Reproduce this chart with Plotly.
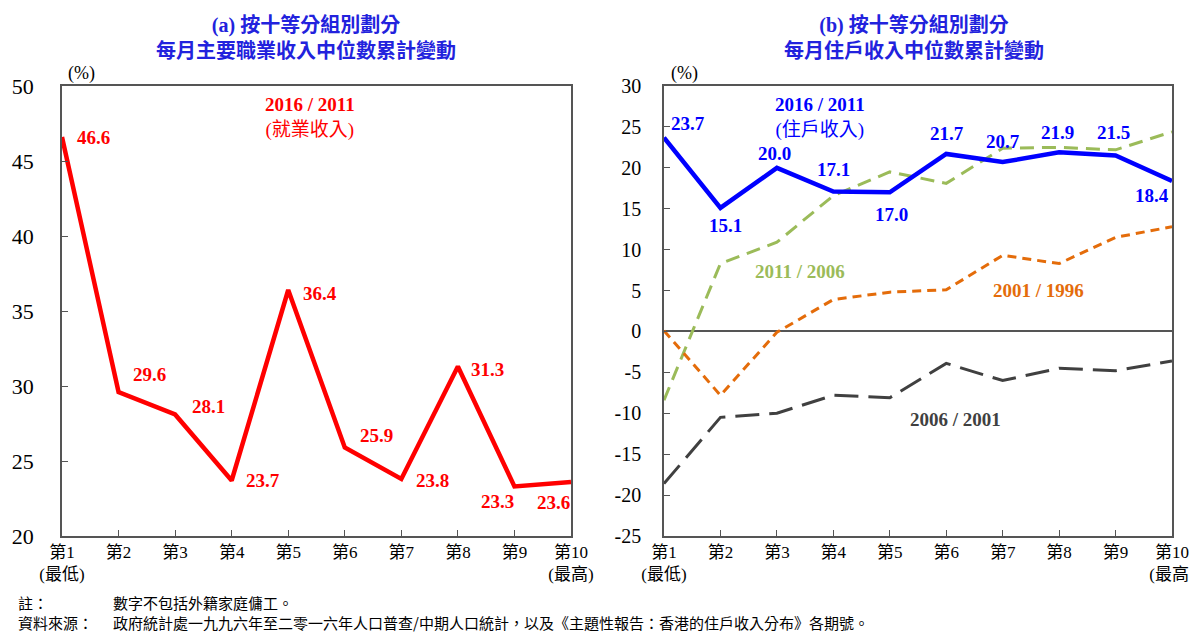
import plotly.graph_objects as go
from plotly.subplots import make_subplots

# ---------------- data ----------------
deciles = list(range(1, 11))
tick_text = ["第1<br>(最低)", "第2", "第3", "第4", "第5", "第6", "第7", "第8", "第9", "第10<br>(最高)"]

emp_2016_2011 = [46.6, 29.6, 28.1, 23.7, 36.4, 25.9, 23.8, 31.3, 23.3, 23.6]

hh_2016_2011 = [23.7, 15.1, 20.0, 17.1, 17.0, 21.7, 20.7, 21.9, 21.5, 18.4]
hh_2011_2006 = [-8.4, 8.3, 10.9, 16.6, 19.5, 18.1, 22.4, 22.5, 22.2, 24.4]
hh_2006_2001 = [-18.6, -10.5, -10.0, -7.8, -8.1, -3.9, -6.0, -4.5, -4.8, -3.6]
hh_2001_1996 = [0.1, -7.8, -0.1, 3.9, 4.8, 5.1, 9.3, 8.3, 11.5, 12.8]

left_ticks = [20, 25, 30, 35, 40, 45, 50]
right_ticks = [-25, -20, -15, -10, -5, 0, 5, 10, 15, 20, 25, 30]

# label offsets (px) for the value labels
emp_off = [(31, 0), (31, 18), (33, 8), (31, 0), (32, -3), (32, 12), (31, -1), (30, -3), (-17, -15), (-18, -20)]
hh_off = [(24, 14), (5, -18), (-2, 14), (0, 22), (2, -22), (1, 20), (0, 21), (-2, 20), (-2, 23), (-20, -15)]

RED = "#FF0000"
BLUE = "#0000FF"
GREEN = "#9BBB59"
ORANGE = "#E46C0A"
GREY = "#404040"
TITLE = "#2222DD"
SERIF = "Liberation Serif, Times New Roman, Noto Sans CJK TC, serif"
CJK = "Noto Sans CJK TC, Liberation Serif, serif"

# the page puts the figure 8px in from the top-left corner
W, H, OFF = 1189, 627, 8


def px(x):
    return (x - OFF) / W


def py(y):
    return 1 - (y - OFF) / H


fig = make_subplots(rows=1, cols=2)

fig.add_trace(go.Scatter(x=deciles, y=emp_2016_2011, mode="lines",
                         line=dict(color=RED, width=4.5), showlegend=False), row=1, col=1)

fig.add_trace(go.Scatter(x=deciles, y=hh_2011_2006, mode="lines",
                         line=dict(color=GREEN, width=3, dash="14px,8px"), showlegend=False), row=1, col=2)
fig.add_trace(go.Scatter(x=deciles, y=hh_2001_1996, mode="lines",
                         line=dict(color=ORANGE, width=3, dash="9px,6px"), showlegend=False), row=1, col=2)
fig.add_trace(go.Scatter(x=deciles, y=hh_2006_2001, mode="lines",
                         line=dict(color=GREY, width=3, dash="24px,10px"), showlegend=False), row=1, col=2)
fig.add_trace(go.Scatter(x=deciles, y=hh_2016_2011, mode="lines",
                         line=dict(color=BLUE, width=4.5), showlegend=False), row=1, col=2)

ann = []
for x, v, (dx, dy) in zip(deciles, emp_2016_2011, emp_off):
    ann.append(dict(x=x, y=v, xref="x", yref="y", text=f"<b>{v:.1f}</b>", showarrow=False,
                    xshift=dx, yshift=dy, font=dict(family=SERIF, size=19, color=RED)))
for x, v, (dx, dy) in zip(deciles, hh_2016_2011, hh_off):
    ann.append(dict(x=x, y=v, xref="x2", yref="y2", text=f"<b>{v:.1f}</b>", showarrow=False,
                    xshift=dx, yshift=dy, font=dict(family=SERIF, size=19, color=BLUE)))

# series labels
ann += [
    dict(x=5.38, y=47.9, xref="x", yref="y", text="<b>2016 / 2011</b><br>(就業收入)", showarrow=False,
         font=dict(family=SERIF, size=19, color=RED)),
    dict(x=3.76, y=26.1, xref="x2", yref="y2", text="<b>2016 / 2011</b><br>(住戶收入)", showarrow=False,
         font=dict(family=SERIF, size=19, color=BLUE)),
    dict(x=3.41, y=7.3, xref="x2", yref="y2", text="<b>2011 / 2006</b>", showarrow=False,
         font=dict(family=SERIF, size=19, color=GREEN)),
    dict(x=7.63, y=5.0, xref="x2", yref="y2", text="<b>2001 / 1996</b>", showarrow=False,
         font=dict(family=SERIF, size=19, color=ORANGE)),
    dict(x=6.16, y=-10.8, xref="x2", yref="y2", text="<b>2006 / 2001</b>", showarrow=False,
         font=dict(family=SERIF, size=19, color=GREY)),
]

# titles and (%) units
ann += [
    dict(x=px(306), y=py(38), xref="paper", yref="paper", xanchor="center", yanchor="middle",
         showarrow=False, text="<b>(a) 按十等分組別劃分<br>每月主要職業收入中位數累計變動</b>",
         font=dict(family=SERIF, size=20, color=TITLE)),
    dict(x=px(914), y=py(38), xref="paper", yref="paper", xanchor="center", yanchor="middle",
         showarrow=False, text="<b>(b) 按十等分組別劃分<br>每月住戶收入中位數累計變動</b>",
         font=dict(family=SERIF, size=20, color=TITLE)),
    dict(x=px(81), y=py(73), xref="paper", yref="paper", xanchor="center", yanchor="middle",
         showarrow=False, text="(%)", font=dict(family=SERIF, size=18, color="black")),
    dict(x=px(684), y=py(73), xref="paper", yref="paper", xanchor="center", yanchor="middle",
         showarrow=False, text="(%)", font=dict(family=SERIF, size=18, color="black")),
]

# footnotes (two columns, two lines each)
foot = dict(xref="paper", yref="paper", xanchor="left", yanchor="middle", align="left", showarrow=False,
            font=dict(family=CJK, size=15, color="black"))
ann += [
    dict(x=px(16), y=py(612), text="註：<br>資料來源：", **foot),
    dict(x=px(111), y=py(612),
         text="數字不包括外籍家庭傭工。<br>"
              "政府統計處一九九六年至二零一六年人口普查/中期人口統計，以及《主題性報告：香港的住戶收入分布》各期號。",
         **foot),
]

axis_line = dict(showline=True, linecolor="#555555", linewidth=1.5, mirror=True, automargin=False,
                 showgrid=False, zeroline=False, ticks="inside", ticklen=6, tickcolor="#555555")

fig.update_xaxes(range=[1, 10], tickvals=deciles, ticktext=tick_text,
                 tickfont=dict(family=SERIF, size=17, color="black"), **axis_line)
fig.update_xaxes(domain=[px(62), px(571)], row=1, col=1)
fig.update_xaxes(domain=[px(664), px(1172)], row=1, col=2)

fig.update_yaxes(**axis_line)
fig.update_yaxes(range=[20, 50], tickvals=left_ticks, ticktext=[str(t) for t in left_ticks],
                 domain=[py(536), py(86)],
                 tickfont=dict(family=SERIF, size=22, color="black"), ticklabelstandoff=22, row=1, col=1)
fig.update_yaxes(range=[-25, 30], tickvals=right_ticks, ticktext=[str(t) for t in right_ticks],
                 domain=[py(536), py(86)],
                 tickfont=dict(family=SERIF, size=20, color="black"), ticklabelstandoff=17,
                 zeroline=True, zerolinecolor="#555555", zerolinewidth=1.5, row=1, col=2)

fig.update_layout(width=W, height=H, margin=dict(l=0, r=0, t=0, b=0),
                  plot_bgcolor="white", paper_bgcolor="white", annotations=ann)

fig.write_html("out.html")
